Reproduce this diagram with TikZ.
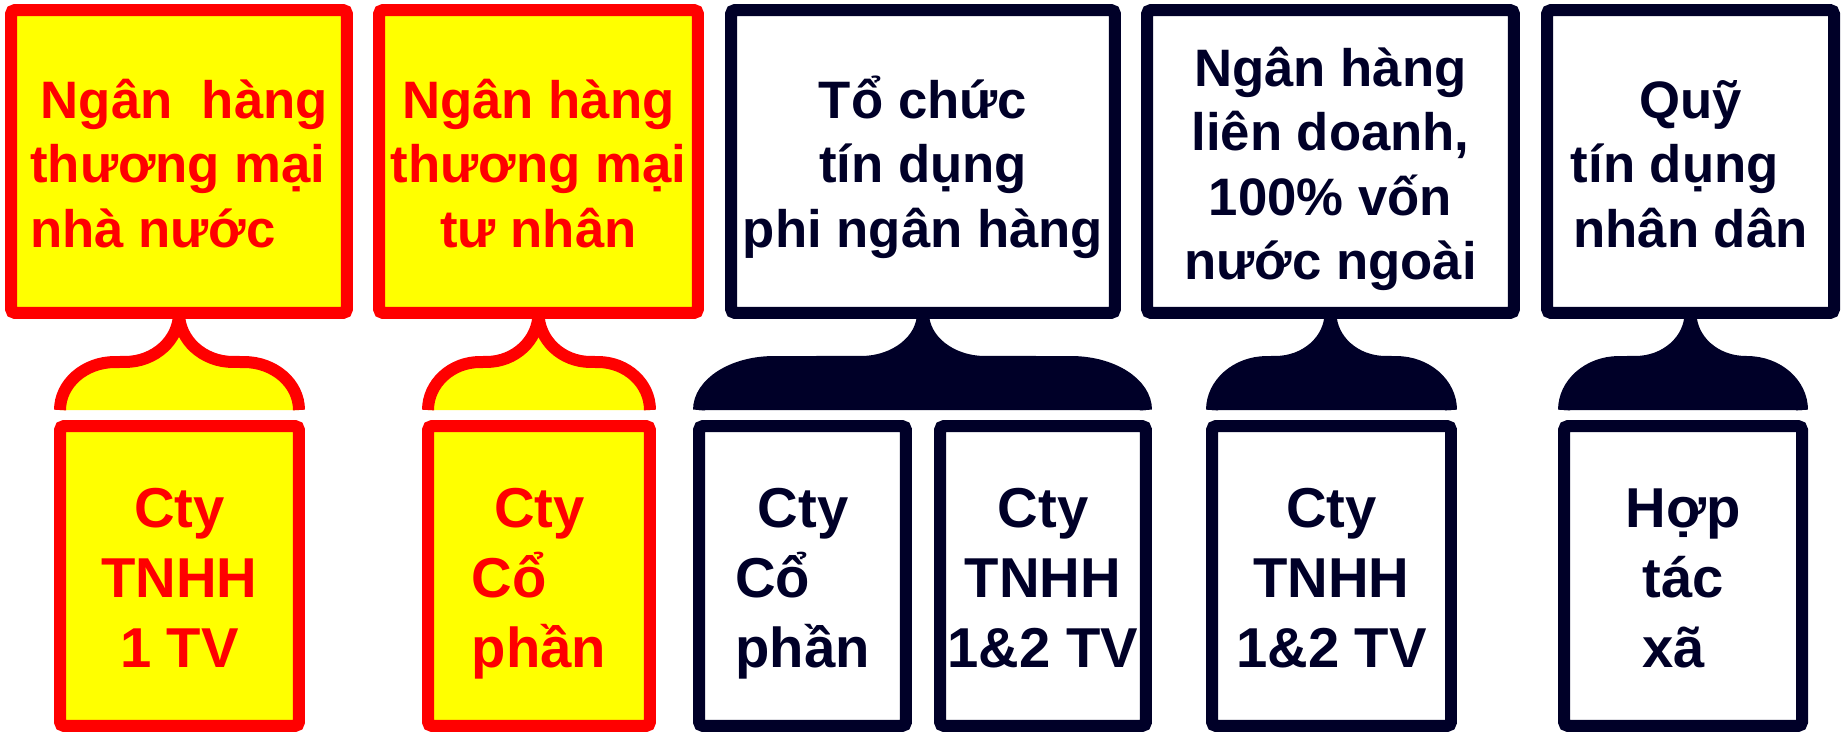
\documentclass[tikz,border=0pt]{standalone}
\usepackage{fontspec}
\setmainfont{Liberation Sans}
\definecolor{deepnavy}{RGB}{0, 0, 40}
\definecolor{brightred}{RGB}{255, 0, 0}
\definecolor{brightyellow}{RGB}{255, 255, 0}
\usetikzlibrary{calc}
\newcommand{\firstln}{\rule{0pt}{1.24cm}}
\newcommand{\lastln}{\rule[-0.38cm]{0pt}{0.38cm}}

\begin{document}
\begin{tikzpicture}[x=0.02cm, y=0.02cm,
	cell/.style={rectangle, line width=0.24cm, rounded corners=0.08cm, inner sep=0pt, outer sep=0pt, align=center},
	redcell/.style={cell, draw=brightred, fill=brightyellow, text=brightred},
	darkcell/.style={cell, draw=deepnavy, fill=white, text=deepnavy},
	toprow/.style={font=\bfseries\fontsize{30}{36.5}\selectfont, minimum height=6.06cm},
	botrow/.style={font=\bfseries\fontsize{32}{39.8}\selectfont, minimum height=6cm},
	brace/.style={line width=0.24cm}]
	\path[fill=white] (0,0) rectangle (1841,733);
	
	% Top row
	\node[redcell, toprow, minimum width=6.72cm, align=left] (bankstate) at (179,571.5)
		{\firstln\hspace*{0.2em}Ngân\ \ hàng\\thương mại\\nhà nước\lastln};
	\node[redcell, toprow, minimum width=6.38cm] (bankpriv) at (538.5,571.5)
		{\firstln Ngân hàng\\thương mại\\tư nhân\lastln};
	\node[darkcell, toprow, minimum width=7.68cm] (nonbank) at (923,571.5)
		{\firstln Tổ chức\\tín dụng\\phi ngân hàng\lastln};
	\node[darkcell, toprow, minimum width=7.34cm] (bankjoint) at (1330.5,571.5)
		{\firstln Ngân hàng\\liên doanh,\\100\% vốn\\nước ngoài\lastln};
	\node[darkcell, toprow, minimum width=5.74cm] (creditfund) at (1690.5,571.5)
		{\firstln Quỹ\\tín dụng\rule{0.6em}{0pt}\\nhân dân\lastln};
	
	% Bottom row
	\node[redcell, botrow, minimum width=4.78cm] (onemember) at (179.5,157)
		{\firstln Cty\\TNHH\\1 TV\lastln};
	\node[redcell, botrow, minimum width=4.44cm, align=left] (stockpriv) at (539,157)
		{\firstln\hspace*{0.4em}Cty\\Cổ\\phần\lastln};
	\node[darkcell, botrow, minimum width=4.14cm, align=left] (stocknon) at (802.5,157)
		{\firstln\hspace*{0.4em}Cty\\Cổ\\phần\lastln};
	\node[darkcell, botrow, minimum width=4.12cm] (twonon) at (1043,157)
		{\firstln Cty\\TNHH\\1\&2 TV\lastln};
	\node[darkcell, botrow, minimum width=4.78cm] (twojoint) at (1331.5,157)
		{\firstln Cty\\TNHH\\1\&2 TV\lastln};
	\node[darkcell, botrow, minimum width=4.76cm] (coop) at (1683,157)
		{\firstln Hợp\\tác\\xã\rule{0.33em}{0pt}\lastln};
	
	% Braces
	\foreach \parent/\lft/\rgt/\lobe/\neck/\fc/\dc in {
		bankstate/onemember/onemember/55/54/brightyellow/brightred,
		bankpriv/stockpriv/stockpriv/52/52/brightyellow/brightred,
		nonbank/stocknon/twonon/75/62/deepnavy/deepnavy,
		bankjoint/twojoint/twojoint/55/55/deepnavy/deepnavy,
		creditfund/coop/coop/55/55/deepnavy/deepnavy}
	{
		\filldraw[brace, fill=\fc, draw=\dc]
			($(\lft.north west)+(0,16)$) arc[start angle=180, end angle=90, x radius=\lobe*0.02cm, y radius=0.96cm]
			-- ($(\parent.south)+(-\neck,-49)$) arc[start angle=270, end angle=360, x radius=\neck*0.02cm, y radius=0.98cm]
			arc[start angle=180, end angle=270, x radius=\neck*0.02cm, y radius=0.98cm]
			-- ($(\rgt.north east)+(-\lobe,64)$) arc[start angle=90, end angle=0, x radius=\lobe*0.02cm, y radius=0.96cm];
	}
	
\end{tikzpicture}
\end{document}
